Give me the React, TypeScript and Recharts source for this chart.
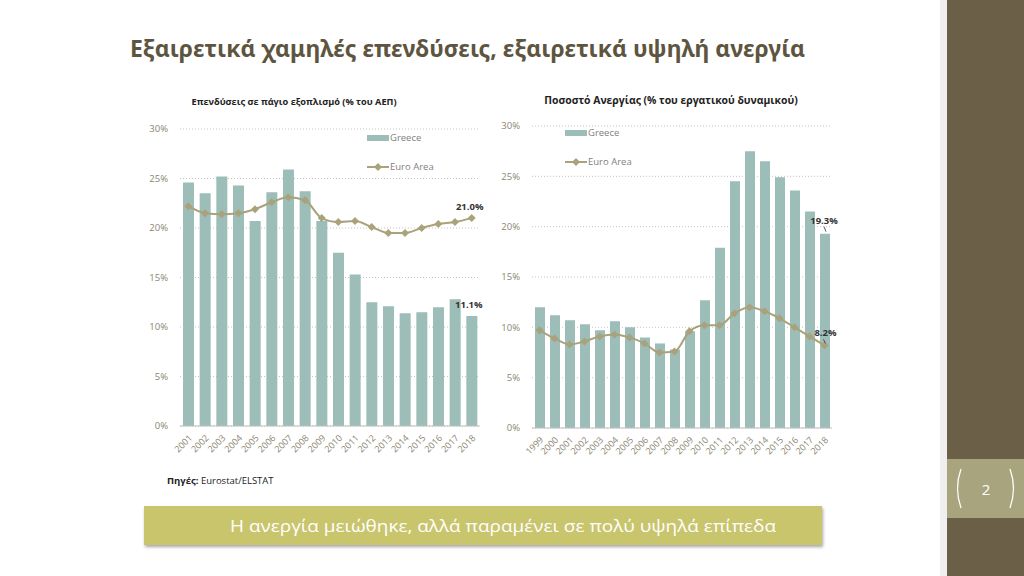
import { ComposedChart, Bar, Line, XAxis, YAxis, CartesianGrid, LabelList } from "recharts"

const invYears = ["2001", "2002", "2003", "2004", "2005", "2006", "2007", "2008", "2009", "2010", "2011", "2012", "2013", "2014", "2015", "2016", "2017", "2018"]
const invGreece = [24.6, 23.5, 25.2, 24.3, 20.7, 23.6, 25.9, 23.7, 20.7, 17.5, 15.3, 12.5, 12.1, 11.4, 11.5, 12.0, 12.8, 11.1]
const invEuro = [22.2, 21.5, 21.4, 21.5, 21.9, 22.6, 23.1, 22.8, 21.0, 20.6, 20.7, 20.1, 19.5, 19.5, 20.0, 20.4, 20.6, 21.0]

const unYears = ["1999", "2000", "2001", "2002", "2003", "2004", "2005", "2006", "2007", "2008", "2009", "2010", "2011", "2012", "2013", "2014", "2015", "2016", "2017", "2018"]
const unGreece = [12.0, 11.2, 10.7, 10.3, 9.7, 10.6, 10.0, 9.0, 8.4, 7.8, 9.6, 12.7, 17.9, 24.5, 27.5, 26.5, 24.9, 23.6, 21.5, 19.3]
const unEuro = [9.7, 8.9, 8.3, 8.6, 9.1, 9.3, 9.0, 8.4, 7.5, 7.6, 9.6, 10.2, 10.2, 11.4, 12.0, 11.6, 10.9, 10.0, 9.1, 8.2]

const yTicks = [0, 5, 10, 15, 20, 25, 30]

const BAR = "#9cbdb8"
const LINE = "#a9a27a"
const AXIS_TXT = "#8b8570"
const FONT = "'Open Sans', 'Noto Sans', sans-serif"

const Diamond = (p: any) => {
  const { cx, cy } = p
  if (cx == null || cy == null) return null
  return <path d={`M${cx},${cy - 4}L${cx + 4},${cy}L${cx},${cy + 4}L${cx - 4},${cy}Z`} fill={LINE} />
}

// label only on the last point, optional little leader line
const lastLabel = (lastIdx: number, dy: number, dx: number, leader: boolean) => (p: any) => {
  const { x, y, width, value, index } = p
  if (index !== lastIdx) return null
  const cx = width ? x + width / 2 : x
  return (
    <g>
      <text x={cx + dx} y={y + dy} textAnchor="middle" fontSize={9.5} fontWeight={700} fill="#333" fontFamily={FONT}>
        {value.toFixed(1)}%
      </text>
      {leader && <line x1={cx - 1} y1={y + dy + 3} x2={cx + 1} y2={y - 2} stroke="#333" strokeWidth={0.8} />}
    </g>
  )
}

type PanelProps = {
  years: string[]
  greece: number[]
  euro: number[]
  left: number
  top: number
  marginTop: number
  xHeight: number
  barSize: number
  barLabel: (p: any) => any
  lineLabel: (p: any) => any
}

function Panel({ years, greece, euro, left, top, marginTop, xHeight, barSize, barLabel, lineLabel }: PanelProps) {
  const data = years.map((y, i) => ({ year: y, greece: greece[i], euro: euro[i] }))
  return (
    <div style={{ position: "absolute", left, top }}>
      <ComposedChart width={360} height={370} data={data} margin={{ top: marginTop, right: 10, bottom: 10, left: 0 }}>
        <CartesianGrid vertical={false} stroke="#c4c4c4" strokeDasharray="1 2" />
        <XAxis
          dataKey="year"
          interval={0}
          angle={-45}
          textAnchor="end"
          height={xHeight}
          tickLine={false}
          axisLine={{ stroke: "#bfbfbf" }}
          tick={{ fontSize: 9, fill: AXIS_TXT, fontFamily: FONT }}
          tickMargin={2}
        />
        <YAxis
          domain={[0, 30]}
          ticks={yTicks}
          width={50}
          tickLine={false}
          axisLine={false}
          tickFormatter={(v: number) => `${v}%`}
          tick={{ fontSize: 9.5, fill: AXIS_TXT, fontFamily: FONT }}
          tickMargin={6}
        />
        <Bar dataKey="greece" fill={BAR} barSize={barSize} isAnimationActive={false}>
          <LabelList dataKey="greece" content={barLabel} />
        </Bar>
        <Line
          dataKey="euro"
          type="monotone"
          stroke={LINE}
          strokeWidth={2}
          dot={<Diamond />}
          activeDot={false}
          isAnimationActive={false}
        >
          <LabelList dataKey="euro" content={lineLabel} />
        </Line>
      </ComposedChart>
    </div>
  )
}

function Legend({ left, top }: { left: number; top: number }) {
  const txt = { position: "absolute" as const, fontSize: 9.5, color: "#7f7f7f", fontFamily: FONT, lineHeight: "12px", whiteSpace: "nowrap" as const }
  return (
    <div style={{ position: "absolute", left, top }}>
      <div style={{ position: "absolute", left: 0, top: 0, width: 22, height: 6, background: BAR }} />
      <div style={{ ...txt, left: 23, top: -3 }}>Greece</div>
      <svg style={{ position: "absolute", left: 0, top: 27 }} width={24} height={10}>
        <line x1={0} y1={5} x2={22} y2={5} stroke={LINE} strokeWidth={2} />
        <path d="M11,1L15,5L11,9L7,5Z" fill={LINE} />
      </svg>
      <div style={{ ...txt, left: 23, top: 26 }}>Euro Area</div>
    </div>
  )
}

export default function App() {
  return (
    <div style={{ position: "absolute", left: 0, top: 0, width: 1024, height: 576, background: "#fff", overflow: "hidden", fontFamily: FONT }}>
      {/* right sidebar */}
      <div style={{ position: "absolute", left: 940, top: 0, width: 7, height: 576, background: "#efefef" }} />
      <div style={{ position: "absolute", left: 947, top: 0, width: 77, height: 576, background: "#6b5f48" }} />
      <div style={{ position: "absolute", left: 947, top: 459, width: 77, height: 59, background: "#a8a47e" }} />
      <svg style={{ position: "absolute", left: 947, top: 459 }} width={77} height={59}>
        <path d="M14,10 Q7,29.5 14,49" stroke="#fff" strokeWidth={1.3} fill="none" />
        <path d="M63,10 Q70,29.5 63,49" stroke="#fff" strokeWidth={1.3} fill="none" />
        <text x={39} y={36} textAnchor="middle" fontSize={15} fill="#fff" fontFamily={FONT}>2</text>
      </svg>

      {/* slide title */}
      <svg style={{ position: "absolute", left: 0, top: 0 }} width={940} height={80}>
        <text x={130} y={57} fontSize={24} fontWeight={700} fill="#5e5540" fontFamily="'Noto Sans', sans-serif" textLength={675} lengthAdjust="spacingAndGlyphs">
          Εξαιρετικά χαμηλές επενδύσεις, εξαιρετικά υψηλή ανεργία
        </text>
      </svg>

      {/* chart titles */}
      <div style={{ position: "absolute", left: 134, top: 95, width: 320, textAlign: "center", fontSize: 9.2, fontWeight: 700, color: "#222" }}>
        Επενδύσεις σε πάγιο εξοπλισμό (% του ΑΕΠ)
      </div>
      <div style={{ position: "absolute", left: 511, top: 93, width: 320, textAlign: "center", fontSize: 10.4, fontWeight: 700, color: "#222" }}>
        Ποσοστό Ανεργίας (% του εργατικού δυναμικού)
      </div>

      <Panel
        years={invYears}
        greece={invGreece}
        euro={invEuro}
        left={130}
        top={110}
        marginTop={19}
        xHeight={44}
        barSize={11}
        barLabel={lastLabel(invYears.length - 1, -8, -3, false)}
        lineLabel={lastLabel(invYears.length - 1, -8, -2, false)}
      />
      <Panel
        years={unYears}
        greece={unGreece}
        euro={unEuro}
        left={482}
        top={110}
        marginTop={16}
        xHeight={42}
        barSize={10}
        barLabel={lastLabel(unYears.length - 1, -10, -1, true)}
        lineLabel={lastLabel(unYears.length - 1, -9, 1, true)}
      />

      <Legend left={367} top={135} />
      <Legend left={565} top={130} />

      <div style={{ position: "absolute", left: 167, top: 474, fontSize: 9.5, color: "#222" }}>
        <b>Πηγές:</b> Eurostat/ELSTAT
      </div>

      {/* bottom message */}
      <div style={{ position: "absolute", left: 144, top: 506, width: 678, height: 39, background: "#c9c56d", boxShadow: "1px 2px 3px rgba(0,0,0,0.35)" }} />
      <svg style={{ position: "absolute", left: 144, top: 506 }} width={678} height={39}>
        <text x={86} y={26} fontSize={17} fill="#fff" fontFamily={FONT} textLength={546} lengthAdjust="spacingAndGlyphs">
          Η ανεργία μειώθηκε, αλλά παραμένει σε πολύ υψηλά επίπεδα
        </text>
      </svg>
    </div>
  )
}
